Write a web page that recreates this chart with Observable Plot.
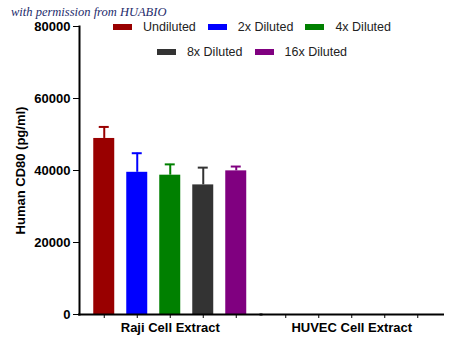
<!DOCTYPE html>
<html><head><meta charset="utf-8">
<script src="https://cdn.jsdelivr.net/npm/d3@7"></script>
<script src="https://cdn.jsdelivr.net/npm/@observablehq/plot@0.6"></script>
<style>
body{margin:0;background:#fff;}
#wrap{position:relative;width:450px;height:349px;overflow:hidden;background:#fff;font-family:Arial,"Liberation Sans",sans-serif;}
#wrap svg{position:absolute;left:0;top:0;}
#credit{position:absolute;left:11px;top:5px;font:italic 12.5px "Liberation Serif","DejaVu Serif",serif;color:#1d2b6b;white-space:nowrap;z-index:2;}
.legrow{position:absolute;left:0;width:504px;display:flex;justify-content:center;align-items:center;height:16px;z-index:2;}
.legitem{display:flex;align-items:center;margin:0 6px;font-size:12.5px;color:#222;white-space:nowrap;}
.sw{width:19px;height:6px;margin-right:11px;}
</style>
</head><body>
<div id="wrap"><div id="credit">with permission from HUABIO</div></div>
<script>
const extracts = ["Raji Cell Extract", "HUVEC Cell Extract"];
const dilutions = ["Undiluted", "2x Diluted", "4x Diluted", "8x Diluted", "16x Diluted"];
const colors = ["#990000", "#0000ff", "#008000", "#333333", "#800080"];
const rajiMeans = [48900, 39500, 38700, 36000, 39900];
const rajiErrors = [3200, 5300, 3000, 4800, 1200];
const huvecMeans = [0, 0, 0, 0, 0];
const huvecErrors = [0, 0, 0, 0, 0];
const yTicks = [0, 20000, 40000, 60000, 80000];
const legendRows = [[0, 1, 2], [3, 4]];

const rows = [];
dilutions.forEach((d, i) => rows.push({extract: extracts[0], dilution: d, mean: rajiMeans[i], err: rajiErrors[i]}));
dilutions.forEach((d, i) => rows.push({extract: extracts[1], dilution: d, mean: huvecMeans[i], err: huvecErrors[i]}));
const errRows = rows.filter(r => r.err > 0);

const chart = Plot.plot({
  width: 450, height: 349,
  marginTop: 26, marginBottom: 35, marginLeft: 79, marginRight: 8,
  style: {fontFamily: "Arial, 'Liberation Sans', sans-serif", fontSize: "13px", fontWeight: "bold", color: "#000", background: "#fff"},
  fx: {domain: extracts, paddingInner: 0, paddingOuter: 0, round: false, label: null, axis: "bottom", tickSize: 0, tickPadding: 8},
  x: {domain: dilutions, paddingInner: 0.364, paddingOuter: 0.432, round: false, tickFormat: () => "", tickSize: 4, label: null},
  y: {domain: [0, 80000], ticks: yTicks, tickFormat: d => String(d), tickSize: 6, tickPadding: 3,
      label: "Human CD80 (pg/ml)", labelArrow: "none", labelAnchor: "center", labelOffset: 64},
  color: {domain: dilutions, range: colors},
  marks: [
    Plot.barY(rows, {fx: "extract", x: "dilution", y: "mean", fill: "dilution"}),
    Plot.ruleX(errRows, {fx: "extract", x: "dilution", y1: "mean", y2: d => d.mean + d.err, stroke: "dilution", strokeWidth: 2}),
    Plot.tickY(errRows, {fx: "extract", x: "dilution", y: d => d.mean + d.err, stroke: "dilution", strokeWidth: 2, insetLeft: 5.5, insetRight: 5.5}),
    Plot.frame({anchor: "bottom", strokeWidth: 2, insetRight: -0.5, insetLeft: -0.5}),
    Plot.frame({anchor: "left", strokeWidth: 2, facetAnchor: "left"})
  ]
});
const wrap = document.getElementById("wrap");
wrap.appendChild(chart);

const rowTops = [19, 44];
legendRows.forEach((idxs, r) => {
  const row = d3.select(wrap).append("div").attr("class", "legrow").style("top", rowTops[r] + "px");
  idxs.forEach(i => {
    const item = row.append("div").attr("class", "legitem");
    item.append("div").attr("class", "sw").style("background", colors[i]);
    item.append("span").text(dilutions[i]);
  });
});
</script>
</body></html>
